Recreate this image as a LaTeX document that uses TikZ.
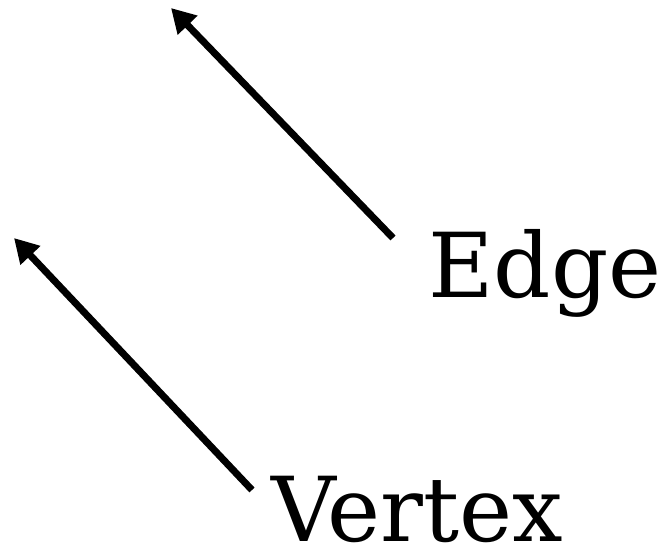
\documentclass[tikz,border=0pt]{standalone}
\usepackage{fontspec}
\setmainfont{DejaVu Serif}
\usetikzlibrary{arrows.meta}
\begin{document}
\begin{tikzpicture}[x=0.02cm,y=-0.02cm,
  arr/.style={line width=4pt, -{Triangle[length=24*0.02cm,width=26*0.02cm]}},
  lbl/.style={font=\fontsize{51}{53}\selectfont, anchor=base west, inner sep=0pt}]
\useasboundingbox (0,0) rectangle (669,548);
\node[lbl] (edge) at (428,297) {Edge};
\node[lbl,text depth=0pt] (vertex) at (271,541) {Vertex};
\coordinate (e1) at (393,238);
\coordinate (e2) at (171,8);
\coordinate (v1) at (252,490);
\coordinate (v2) at (14,238);
\draw[arr] (e1) -- (e2);
\draw[arr] (v1) -- (v2);
\end{tikzpicture}
\end{document}
